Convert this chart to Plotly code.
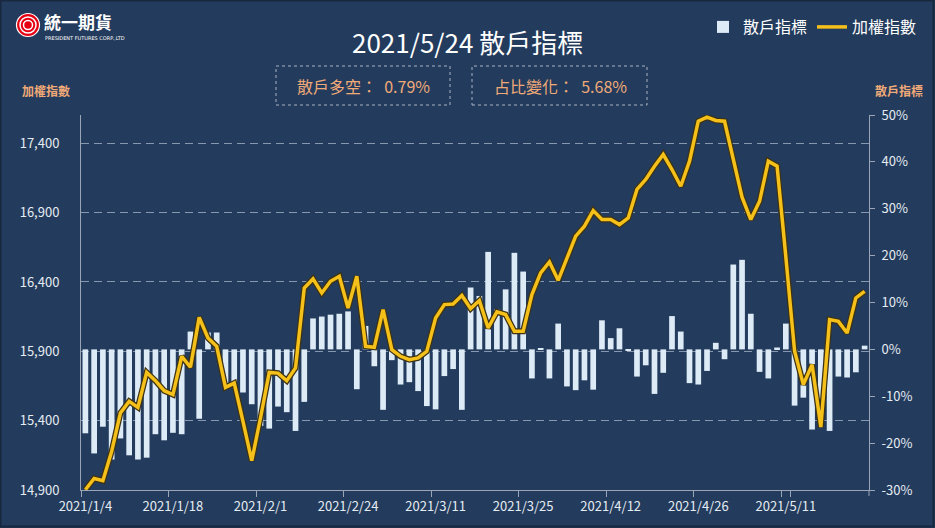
import plotly.graph_objects as go

# ---------------- data ----------------
dates = [
    "2021/1/4", "2021/1/5", "2021/1/6", "2021/1/7", "2021/1/8", "2021/1/11", "2021/1/12", "2021/1/13",
    "2021/1/14", "2021/1/15", "2021/1/18", "2021/1/19", "2021/1/20", "2021/1/21", "2021/1/22", "2021/1/25",
    "2021/1/26", "2021/1/27", "2021/1/28", "2021/1/29",
    "2021/2/1", "2021/2/2", "2021/2/3", "2021/2/4", "2021/2/5", "2021/2/17", "2021/2/18", "2021/2/19",
    "2021/2/22", "2021/2/23", "2021/2/24", "2021/2/25", "2021/2/26",
    "2021/3/2", "2021/3/3", "2021/3/4", "2021/3/5", "2021/3/8", "2021/3/9", "2021/3/10", "2021/3/11",
    "2021/3/12", "2021/3/15", "2021/3/16", "2021/3/17", "2021/3/18", "2021/3/19", "2021/3/22", "2021/3/23",
    "2021/3/24", "2021/3/25", "2021/3/26", "2021/3/29", "2021/3/30", "2021/3/31",
    "2021/4/1", "2021/4/6", "2021/4/7", "2021/4/8", "2021/4/9", "2021/4/12", "2021/4/13", "2021/4/14",
    "2021/4/15", "2021/4/16", "2021/4/19", "2021/4/20", "2021/4/21", "2021/4/22", "2021/4/23", "2021/4/26",
    "2021/4/27", "2021/4/28", "2021/4/29",
    "2021/5/3", "2021/5/4", "2021/5/5", "2021/5/6", "2021/5/7", "2021/5/10", "2021/5/11", "2021/5/12",
    "2021/5/13", "2021/5/14", "2021/5/17", "2021/5/18", "2021/5/19", "2021/5/20", "2021/5/21", "2021/5/24",
]

# 散戶指標 (%)
retail_index = [
    -17.9, -22.2, -16.5, -23.5, -19.0, -22.6, -23.5, -23.1, -18.1, -19.4,
    -17.8, -18.1, 3.8, -14.8, 3.6, 3.6, -7.3, -7.5, -9.2, -11.7,
    -16.3, -16.9, -12.2, -13.4, -17.4, -11.2, 6.6, 7.0, 7.4, 7.6,
    8.1, -8.5, 5.0, -3.6, -12.9, -2.3, -7.5, -7.0, -8.9, -12.1,
    -12.8, -5.7, -4.2, -12.9, 13.2, 11.4, 20.8, 8.5, 12.8, 20.6,
    16.6, -6.2, 0.2, -6.2, 5.5, -7.9, -8.7, -6.6, -8.6, 6.2,
    2.4, 4.5, -0.2, -5.8, -3.4, -9.5, -5.0, 7.1, 3.8, -7.2,
    -7.5, -4.6, 1.4, -2.1, 18.1, 19.1, 7.6, -4.8, -6.2, 0.4,
    5.5, -12.0, -10.3, -17.1, -16.0, -17.4, -5.8, -6.0, -4.89, 0.79,
]

# 加權指數
taiex = [
    14902, 14983, 14967, 15178, 15455, 15539, 15496, 15748, 15688, 15616,
    15588, 15864, 15785, 16145, 15996, 15936, 15640, 15671, 15395, 15111,
    15419, 15748, 15743, 15688, 15780, 16357, 16422, 16321, 16405, 16441,
    16212, 16441, 15936, 15929, 16201, 15912, 15864, 15840, 15852, 15900,
    16140, 16237, 16241, 16302, 16208, 16266, 16068, 16184, 16165, 16044,
    16044, 16309, 16465, 16544, 16412, 16573, 16730, 16802, 16915, 16850,
    16850, 16814, 16862, 17067, 17139, 17235, 17319, 17211, 17090, 17271,
    17559, 17588, 17565, 17559, 17295, 17011, 16850, 16982, 17271, 17235,
    16583, 15902, 15660, 15804, 15354, 16129, 16116, 16032, 16285, 16333,
]

left_ticks = [14900, 15400, 15900, 16400, 16900, 17400]
right_ticks = [-30, -20, -10, 0, 10, 20, 30, 40, 50]

title_text = "2021/5/24 散戶指標"
box1_text = "散戶多空：  0.79%"
box2_text = "占比變化：  5.68%"

# ---------------- style ----------------
W, H = 935, 528
ML, MR, MT, MB = 81, 66, 115, 38
BG = "#233B5C"
BAR = "#DDEBF7"
GOLD = "#F5C01A"
ORANGE = "#F0AA78"
AXIS = "#9AA6B8"
GRID = "#8797AD"
TXT = "#E6ECF3"
FONT = "Noto Sans CJK TC"

pw, ph = W - ML - MR, H - MT - MB


def px(x):
    return (x - ML) / pw


def py(y):
    return (H - MB - y) / ph


fig = go.Figure()

fig.add_trace(go.Bar(
    x=dates, y=retail_index, name="散戶指標", marker_color=BAR,
    marker_line_width=0, yaxis="y",
))
fig.add_trace(go.Scatter(
    x=dates, y=taiex, mode="lines", line=dict(color="#3D3314", width=6),
    yaxis="y2", showlegend=False, hoverinfo="skip",
))
fig.add_trace(go.Scatter(
    x=dates, y=taiex, mode="lines", name="加權指數", line=dict(color=GOLD, width=3.5),
    yaxis="y2",
))

fig.update_layout(
    width=W, height=H,
    margin=dict(l=ML, r=MR, t=MT, b=MB, pad=0, autoexpand=False),
    paper_bgcolor=BG, plot_bgcolor=BG,
    font=dict(family=FONT, color=TXT, size=13),
    bargap=0.35,
    showlegend=True,
    legend=dict(
        orientation="h", x=px(922), xanchor="right", y=py(10), yanchor="top",
        font=dict(size=16, color="#FFFFFF", family=FONT), bgcolor="rgba(0,0,0,0)",
        itemwidth=30, traceorder="normal",
    ),
    xaxis=dict(
        type="category", range=[-0.5, len(dates) - 0.5], automargin=False,
        tickmode="array", tickvals=dates[::10], ticktext=dates[::10], tickangle=0,
        tickson="boundaries", ticks="outside", ticklen=6, tickcolor=AXIS,
        showline=True, linecolor=AXIS, linewidth=1, showgrid=False,
        tickfont=dict(size=13, color=TXT), ticklabelstandoff=4,
    ),
    yaxis=dict(
        side="right", range=[-30, 50], tickvals=right_ticks, automargin=False,
        ticktext=[f"{v}%" for v in right_ticks],
        showline=True, linecolor=AXIS, linewidth=1, ticks="outside", ticklen=5,
        tickcolor=AXIS, showgrid=False, zeroline=False,
        tickfont=dict(size=13, color=TXT), ticklabelstandoff=4,
    ),
    yaxis2=dict(
        overlaying="y", side="left", range=[14900, 17604], tickvals=left_ticks, automargin=False,
        ticktext=[f"{v:,}" for v in left_ticks],
        showline=True, linecolor=AXIS, linewidth=1, ticks="",
        showgrid=True, gridcolor=GRID, gridwidth=1, griddash="8px,5px", zeroline=False,
        tickfont=dict(size=13, color=TXT), ticklabelstandoff=18,
    ),
)

shapes = []
# final tick at the right end of the category axis
shapes.append(dict(type="line", xref="paper", yref="paper", x0=1, x1=1, y0=0, y1=py(H - MB + 6),
                   line=dict(color=AXIS, width=1)))
# dashed info boxes
for x0, x1 in [(276, 450), (472, 647)]:
    shapes.append(dict(type="rect", xref="paper", yref="paper", x0=px(x0), x1=px(x1),
                       y0=py(105), y1=py(66), line=dict(color="#A9B3C2", width=1, dash="dot"),
                       fillcolor="rgba(0,0,0,0)"))
# logo rings
cx, cy = 28, 25
for r, fill, lc, lw in [(11.5, "#E50012", "#FFFFFF", 1.2), (8, "#E50012", "#FFFFFF", 1.5),
                        (4.5, "#E50012", "#FFFFFF", 1.5)]:
    shapes.append(dict(type="circle", xref="paper", yref="paper",
                       x0=px(cx - r), x1=px(cx + r), y0=py(cy + r), y1=py(cy - r),
                       fillcolor=fill, line=dict(color=lc, width=lw)))
# outer frame
shapes.append(dict(type="rect", xref="paper", yref="paper", x0=px(0.5), x1=px(W - 1.5),
                   y0=py(H - 1.5), y1=py(0.5), line=dict(color="#17283F", width=2),
                   fillcolor="rgba(0,0,0,0)", layer="above"))
fig.update_layout(shapes=shapes)

ann = []
ann.append(dict(text=title_text, x=px(467), y=py(42), xref="paper", yref="paper",
                showarrow=False, font=dict(size=26, color="#FFFFFF", family=FONT),
                xanchor="center", yanchor="middle"))
ann.append(dict(text=box1_text, x=px(363), y=py(86), xref="paper", yref="paper",
                showarrow=False, font=dict(size=16, color=ORANGE, family=FONT),
                xanchor="center", yanchor="middle"))
ann.append(dict(text=box2_text, x=px(560), y=py(86), xref="paper", yref="paper",
                showarrow=False, font=dict(size=16, color=ORANGE, family=FONT),
                xanchor="center", yanchor="middle"))
ann.append(dict(text="<b>加權指數</b>", x=px(20), y=py(90), xref="paper", yref="paper",
                showarrow=False, font=dict(size=12, color=ORANGE, family=FONT),
                xanchor="left", yanchor="middle"))
ann.append(dict(text="<b>散戶指標</b>", x=px(925), y=py(90), xref="paper", yref="paper",
                showarrow=False, font=dict(size=12, color=ORANGE, family=FONT),
                xanchor="right", yanchor="middle"))
ann.append(dict(text="<b>統一期貨</b>", x=px(42), y=py(21), xref="paper", yref="paper",
                showarrow=False, font=dict(size=17, color="#FFFFFF", family=FONT),
                xanchor="left", yanchor="middle"))
ann.append(dict(text="PRESIDENT FUTURES CORP.,LTD", x=px(43), y=py(38), xref="paper", yref="paper",
                showarrow=False, font=dict(size=5, color="#FFFFFF", family="DejaVu Sans"),
                xanchor="left", yanchor="middle"))
fig.update_layout(annotations=ann)

fig.write_html("out.html")
